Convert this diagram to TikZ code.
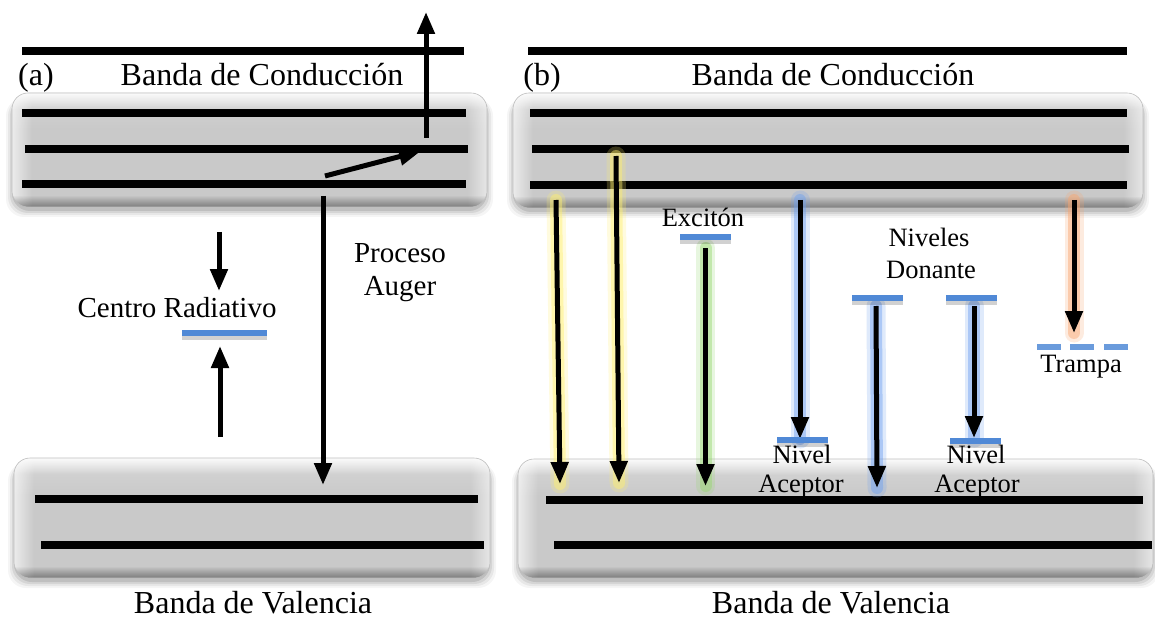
\documentclass[tikz,border=0pt]{standalone}
\usepackage{fontspec}
\setmainfont{Liberation Serif}
\usetikzlibrary{arrows.meta,fadings}

\definecolor{levelblue}{RGB}{80,137,214}
\definecolor{yglow}{RGB}{255,240,110}
\definecolor{gglow}{RGB}{150,215,110}
\definecolor{bglow}{RGB}{110,160,240}
\definecolor{oglow}{RGB}{250,165,110}
\definecolor{bandlow}{gray}{0.70}
\definecolor{bandmid}{gray}{0.79}
\definecolor{bandhi}{gray}{0.84}

% body of a band: slightly lighter towards the top
\pgfdeclareverticalshading{bandshade}{100bp}{%
  color(0bp)=(bandlow); color(25bp)=(bandlow); color(30bp)=(bandmid);
  color(60bp)=(bandmid); color(75bp)=(bandhi); color(100bp)=(bandhi)}

% soft rims of the cushion
\tikzfading[name=bandleft, left color=transparent!35, right color=transparent!100]
\tikzfading[name=bandright, left color=transparent!100, right color=transparent!45]
\tikzfading[name=bandtopfade, top color=transparent!10, bottom color=transparent!100]
\tikzfading[name=bandbotfade, top color=transparent!100, bottom color=transparent!70]

% #1 = left, #2 = top, #3 = right, #4 = bottom
\newcommand\bandbox[4]{%
  \foreach \s/\o in {8/0.04,6/0.055,4/0.075,2/0.1}{%
    \fill[black,opacity=\o,rounded corners=18pt]
      (#1-\s+2,#2+5) rectangle (#3+\s-2,#4+\s+2);}
  \shade[shading=bandshade,rounded corners=16pt] (#1,#2) rectangle (#3,#4);
  \begin{scope}
    \clip[rounded corners=16pt] (#1,#2) rectangle (#3,#4);
    \fill[white,path fading=bandleft] (#1,#2) rectangle (#1+20,#4);
    \fill[white,path fading=bandright] (#3-20,#2) rectangle (#3,#4);
    \fill[white,path fading=bandtopfade] (#1,#2) rectangle (#3,#2+16);
    \fill[black,path fading=bandbotfade] (#1,#4-12) rectangle (#3,#4);
  \end{scope}
  \draw[gray!50,line width=0.6pt,rounded corners=16pt] (#1,#2) rectangle (#3,#4);}

% glowing transition arrow: #1 colour, #2 start, #3 end
\newcommand\glowarrow[3]{%
  \draw[#1,opacity=0.22,line width=19pt,line cap=round] (#2) -- (#3);
  \draw[#1,opacity=0.45,line width=12pt,line cap=round] (#2) -- (#3);
  \draw[arr] (#2) -- (#3);}

% energy level bar with a soft shadow
\newcommand\levelbar[2]{%
  \draw[black,opacity=0.18,line width=8pt] ([yshift=-3pt]#1) -- ([yshift=-3pt]#2);
  \draw[level] (#1) -- (#2);}

\begin{document}
\begin{tikzpicture}[x=1pt,y=-1pt,
  bandline/.style={line width=8pt},
  arr/.style={line width=5pt,-{Triangle[length=22pt,width=17pt]}},
  level/.style={line width=6pt,draw=levelblue},
  bigtxt/.style={font=\fontsize{32}{36}\selectfont,inner sep=0pt,anchor=base},
  midtxt/.style={font=\fontsize{29}{32}\selectfont,inner sep=0pt,anchor=base},
  smalltxt/.style={font=\fontsize{26.5}{29}\selectfont,inner sep=0pt,anchor=base}]

\fill[white] (0,0) rectangle (1155,620);
\useasboundingbox (0,0) rectangle (1155,620);

% ---------------- panel (a) ----------------
\bandbox{12}{93}{487}{207}
\bandbox{14}{458}{490}{578}

\draw[bandline] (22,51) -- (464,51);
\draw[bandline] (22,113) -- (466,113);
\draw[bandline] (25,149) -- (468,149);
\draw[bandline] (22,184) -- (466,184);
\draw[bandline] (35,499) -- (478,499);
\draw[bandline] (41,545) -- (484,545);

\node[bigtxt] (tagA) at (36,86) {(a)};
\node[bigtxt] (cbA) at (262,86) {Banda de Conducción};
\node[bigtxt] (vbA) at (253,613) {Banda de Valencia};

% radiative centre
\coordinate (rcL) at (182,333);
\coordinate (rcR) at (267,333);
\levelbar{rcL}{rcR}
\node[midtxt] (rcTxt) at (177,317) {Centro Radiativo};
\coordinate (rcDownA) at (219,232);
\coordinate (rcDownB) at (219,291);
\coordinate (rcUpA) at (220,437);
\coordinate (rcUpB) at (220,346);
\draw[arr] (rcDownA) -- (rcDownB);
\draw[arr] (rcUpA) -- (rcUpB);

% Auger process
\coordinate (augDownA) at (323,196);
\coordinate (augDownB) at (323,485);
\coordinate (augSideA) at (325,176);
\coordinate (augSideB) at (421,151);
\coordinate (augUpA) at (426,138);
\coordinate (augUpB) at (426,12);
\draw[arr] (augDownA) -- (augDownB);
\draw[arr] (augSideA) -- (augSideB);
\draw[arr] (augUpA) -- (augUpB);
\node[midtxt] (augTxt1) at (400,262) {Proceso};
\node[midtxt] (augTxt2) at (400,295) {Auger};

% ---------------- panel (b) ----------------
\bandbox{513}{93}{1143}{208}
\bandbox{518}{459}{1153}{578}

\draw[bandline] (528,51) -- (1127,51);
\draw[bandline] (530,113) -- (1127,113);
\draw[bandline] (532,149) -- (1129,149);
\draw[bandline] (530,185) -- (1127,185);
\draw[bandline] (546,500) -- (1143,500);
\draw[bandline] (554,545) -- (1152,545);

\node[bigtxt] (tagB) at (542,86) {(b)};
\node[bigtxt] (cbB) at (833,86) {Banda de Conducción};
\node[bigtxt] (vbB) at (831,613) {Banda de Valencia};

% band-to-band transitions
\coordinate (y1A) at (556,200);
\coordinate (y1B) at (560,484);
\coordinate (y2A) at (616,156);
\coordinate (y2B) at (619,483);
\glowarrow{yglow}{y1A}{y1B}
\glowarrow{yglow}{y2A}{y2B}

% exciton
\coordinate (exL) at (680,237);
\coordinate (exR) at (731,237);
\coordinate (exA) at (705.5,248);
\coordinate (exB) at (705.5,486);
\glowarrow{gglow}{exA}{exB}
\levelbar{exL}{exR}
\node[smalltxt] (exTxt) at (703,226) {Excitón};

% conduction band to acceptor
\coordinate (ca1A) at (800,200);
\coordinate (ca1B) at (800,439);
\coordinate (acc1L) at (777,440);
\coordinate (acc1R) at (828,440);
\glowarrow{bglow}{ca1A}{ca1B}
\levelbar{acc1L}{acc1R}

% donor levels
\coordinate (don1L) at (852,298);
\coordinate (don1R) at (903,298);
\coordinate (don2L) at (946,298);
\coordinate (don2R) at (997,298);
\coordinate (dv1A) at (876,306);
\coordinate (dv1B) at (877,488);
\coordinate (da2A) at (974,306);
\coordinate (da2B) at (974,438);
\coordinate (acc2L) at (950,441);
\coordinate (acc2R) at (1001,441);
\glowarrow{bglow}{dv1A}{dv1B}
\glowarrow{bglow}{da2A}{da2B}
\levelbar{don1L}{don1R}
\levelbar{don2L}{don2R}
\levelbar{acc2L}{acc2R}
\node[smalltxt] (donTxt1) at (929,247) {Niveles};
\node[smalltxt] (donTxt2) at (931,278) {Donante};
\node[smalltxt] (acc1Txt1) at (802,463) {Nivel};
\node[smalltxt] (acc1Txt2) at (801,492) {Aceptor};
\node[smalltxt] (acc2Txt1) at (976,463) {Nivel};
\node[smalltxt] (acc2Txt2) at (977,492) {Aceptor};

% trap
\coordinate (trA) at (1074,200);
\coordinate (trB) at (1074,333);
\glowarrow{oglow}{trA}{trB}
\coordinate (tr1L) at (1037,347);
\coordinate (tr1R) at (1061,347);
\coordinate (tr2L) at (1070,347);
\coordinate (tr2R) at (1094,347);
\coordinate (tr3L) at (1104,347);
\coordinate (tr3R) at (1128,347);
\draw[level,draw=levelblue!85!white] (tr1L) -- (tr1R);
\draw[level,draw=levelblue!85!white] (tr2L) -- (tr2R);
\draw[level,draw=levelblue!85!white] (tr3L) -- (tr3R);
\node[smalltxt] (trTxt) at (1081,372) {Trampa};

\end{tikzpicture}
\end{document}
